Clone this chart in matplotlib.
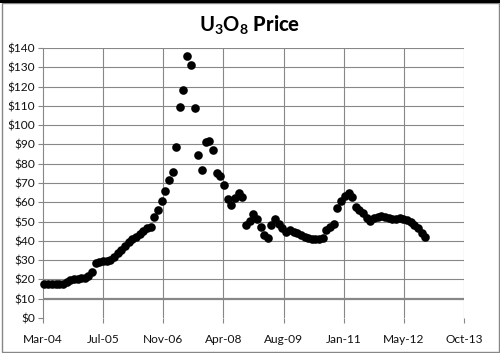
import matplotlib
matplotlib.use("Agg")
import matplotlib.pyplot as plt
import matplotlib.dates as mdates
from matplotlib.patches import Rectangle
import pandas as pd
import datetime as dt

plt.rcParams['font.family'] = ['Lato', 'DejaVu Sans']
plt.rcParams['mathtext.fontset'] = 'custom'
plt.rcParams['mathtext.rm'] = 'Lato'
plt.rcParams['mathtext.bf'] = 'Lato:bold'

# ---- data (monthly, mid-month, Mar-2004 .. Nov-2012) ----
start_month = "2004-03-01"
prices = [
    17.6, 17.6, 17.6, 17.7, 17.7, 17.8, 18.5, 19.7, 20.0, 20.3,
    20.5, 20.7, 22.0, 24.0, 28.3, 29.0, 29.3, 29.6, 30.2, 31.5,
    33.5, 35.2, 37.3, 39.3, 40.8, 42.0, 43.5, 45.0, 46.5, 47.3,
    52.5, 56.0, 60.7, 66.0, 71.5, 75.8, 88.8, 109.5, 118.0, 136.0,
    131.0, 109.0, 84.5, 76.7, 91.4, 91.7, 87.0, 75.4, 73.4, 68.9,
    61.5, 58.6, 62.0, 64.6, 62.5, 48.3, 50.2, 54.0, 51.5, 47.0,
    43.0, 41.3, 48.2, 51.3, 49.0, 46.5, 44.5, 45.6, 44.7, 44.0,
    43.0, 42.2, 41.3, 40.8, 40.8, 40.8, 41.5, 45.6, 47.0, 48.5,
    56.8, 60.8, 63.5, 65.0, 62.8, 57.4, 56.0, 54.5, 51.6, 50.5,
    51.8, 52.5, 53.0, 52.5, 52.0, 51.5, 51.3, 51.6, 51.3, 50.8,
    49.9, 48.2, 46.5, 44.0, 41.8,
]
dates = pd.date_range(start=start_month, periods=len(prices), freq="MS") + pd.Timedelta(days=14)

y_ticks = list(range(0, 141, 10))
y_labels = ["$%d" % v for v in y_ticks]
x_tick_labels = ["Mar-04", "Jul-05", "Nov-06", "Apr-08", "Aug-09", "Jan-11", "May-12", "Oct-13"]
x_min_date = dt.datetime(2004, 3, 3)
x_step_days = 500

# ---- figure ----
fig = plt.figure(figsize=(5.0, 3.53), dpi=100)
ax = fig.add_axes([43/500, 35/353, 421/500, 270/353])

x0 = mdates.date2num(x_min_date)
xticks = [x0 + x_step_days * k for k in range(len(x_tick_labels))]
grid_c = "#878787"

ax.set_xlim(xticks[0], xticks[-1])
ax.set_ylim(0, 140)

for v in y_ticks[1:]:
    ax.axhline(v, color=grid_c, lw=1.6 if v == 10 else 0.8, zorder=1)
for xv in xticks[1:]:
    ax.axvline(xv, color=grid_c, lw=0.8, zorder=1)

for s in ['top', 'right', 'bottom']:
    ax.spines[s].set_visible(False)
ax.spines['left'].set_color(grid_c)
ax.spines['left'].set_linewidth(0.8)

ax.set_yticks(y_ticks)
ax.set_yticklabels(y_labels)
ax.set_xticks(xticks)
ax.set_xticklabels(x_tick_labels)
ax.tick_params(axis='both', colors=grid_c, labelcolor='#111111', labelsize=8.6,
               length=3.5, width=0.8, direction='out')
ax.tick_params(axis='x', pad=8)
ax.tick_params(axis='y', pad=2)

ax.plot(mdates.date2num(dates), prices, 'o', color='black', ms=6.2,
        markeredgewidth=0, zorder=3, clip_on=False)

fig.text(0.5, 1 - 25/353, r"$\mathbf{U_3O_8}$ Price", ha='center', va='center',
         fontsize=14.5, fontweight='black')

# outer border
fig.patches.append(Rectangle((1.5/500, 1.5/353), 497/500, 349/353, transform=fig.transFigure,
                             fill=False, edgecolor=grid_c, lw=1.0))
fig.patches.append(Rectangle((0, 1 - 2.5/353), 1, 2.5/353, transform=fig.transFigure,
                             facecolor='black', edgecolor='none'))

fig.savefig("out.png", dpi=100)
